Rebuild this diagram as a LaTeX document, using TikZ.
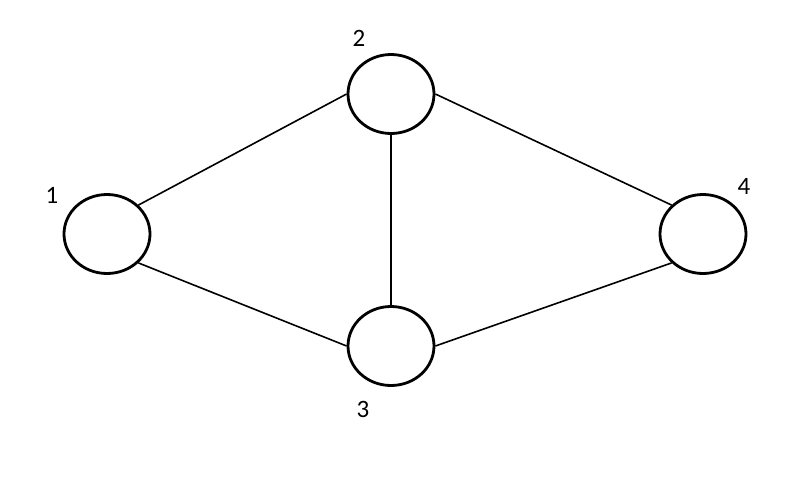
\documentclass[tikz,border=0pt]{standalone}
\usepackage{fontspec}
\setmainfont{Carlito}
\usetikzlibrary{shapes.geometric}
\begin{document}
\begin{tikzpicture}[x=1pt,y=-1pt,
  vertex/.style={draw=black,ellipse,line width=2.8pt,minimum width=86pt,minimum height=79pt,inner sep=0pt},
  edge/.style={draw=black,line width=1.6pt},
  lbl/.style={font=\fontsize{25}{28}\selectfont,inner sep=0pt}]
\useasboundingbox (0,0) rectangle (807,485);
\node[vertex] (n1) at (107,234) {};
\node[vertex] (n2) at (391,94) {};
\node[vertex] (n3) at (391,346) {};
\node[vertex] (n4) at (703,234) {};
\node[lbl] (l1) at (52,195) {1};
\node[lbl] (l2) at (359,38) {2};
\node[lbl] (l3) at (363,409) {3};
\node[lbl] (l4) at (744,186) {4};
\draw[edge] (n1.north east) -- (n2.west);
\draw[edge] (n1.south east) -- (n3.west);
\draw[edge] (n2.south) -- (n3.north);
\draw[edge] (n2.east) -- (n4.north west);
\draw[edge] (n3.east) -- (n4.south west);
\end{tikzpicture}
\end{document}
